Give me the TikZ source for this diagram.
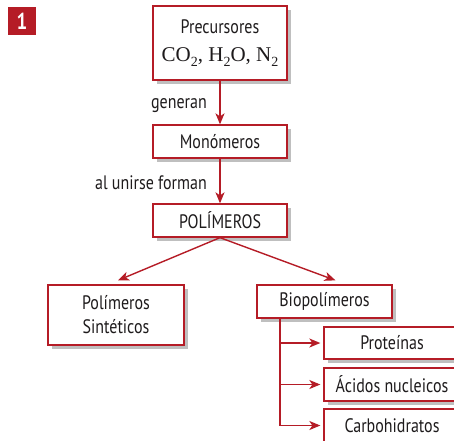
\documentclass[tikz,border=0pt]{standalone}
\usepackage{fontspec}
\setmainfont{PT Sans}[FakeStretch=0.82]
\newfontfamily\chemfont{Liberation Serif}
\usepackage{tikz}
\usetikzlibrary{arrows.meta, shadows}
\definecolor{boxred}{RGB}{181, 28, 38}
\definecolor{inkgray}{RGB}{30, 27, 28}
\newcommand{\chemsub}[1]{\raisebox{-0.45ex}{\fontsize{14}{14}\selectfont #1}}

\begin{document}
\begin{tikzpicture}[x=1pt, y=-1pt, font=\fontsize{19.5}{23}\selectfont, text=inkgray,
    concept/.style={draw=boxred, line width=1.3pt, fill=white, align=center,
      inner sep=2pt, minimum width=135pt, minimum height=33pt,
      drop shadow={shadow xshift=3.5pt, shadow yshift=-3.5pt, opacity=0.5, fill=gray}},
    arr/.style={boxred, line width=1.4pt, -{Stealth[length=11pt, width=9pt, inset=3pt]}},
    linklabel/.style={anchor=east, inner sep=0pt}]
  \useasboundingbox (0,0) rectangle (454,440);

  % Badge
  \node[fill=boxred, text=white, minimum size=28pt, inner sep=0pt,
    font=\fontsize{23}{23}\selectfont\bfseries] (num) at (22,21) {1};

  % Main chain
  \node[concept, minimum height=74pt, minimum width=134pt] (pre) at (220,43)
    {Precursores\\[5pt]{\chemfont\fontsize{21}{23}\selectfont CO\chemsub{2}, H\chemsub{2}O, N\chemsub{2}}};
  \node[concept, minimum width=134pt] (mono) at (220,141.5) {Monómeros};
  \node[concept, minimum width=134pt] (poli) at (220,220.5) {POLÍMEROS};

  \draw[arr] (pre) -- (mono);
  \draw[arr] (mono) -- (poli);
  \node[linklabel] (gen) at (207,106) {generan};
  \node[linklabel] (unir) at (207,183) {al unirse forman};

  % Two kinds
  \node[concept, minimum width=136pt, minimum height=60pt] (sint) at (116,315)
    {Polímeros\\[1pt]Sintéticos};
  \node[concept] (bio) at (324.5,301.5) {Biopolímeros};

  \draw[arr] (poli.south) -- ([xshift=2pt, yshift=4pt]sint.north);
  \draw[arr] (poli.south) -- ([xshift=11pt, yshift=4pt]bio.north);

  % Biopolymer families
  \node[concept, minimum width=136pt, minimum height=32pt] (prot) at (392,343) {Proteínas};
  \node[concept, minimum width=136pt] (acid) at (392,384.5) {Ácidos nucleicos};
  \node[concept, minimum width=136pt] (carb) at (392,425.5) {Carbohidratos};

  \coordinate (trunk) at (280,318);
  \draw[arr, shorten >=3pt] (trunk) |- (carb.west);
  \foreach \fam in {prot, acid} {
    \draw[arr, shorten >=3pt] (trunk |- \fam.west) -- (\fam.west);
  }
\end{tikzpicture}
\end{document}
